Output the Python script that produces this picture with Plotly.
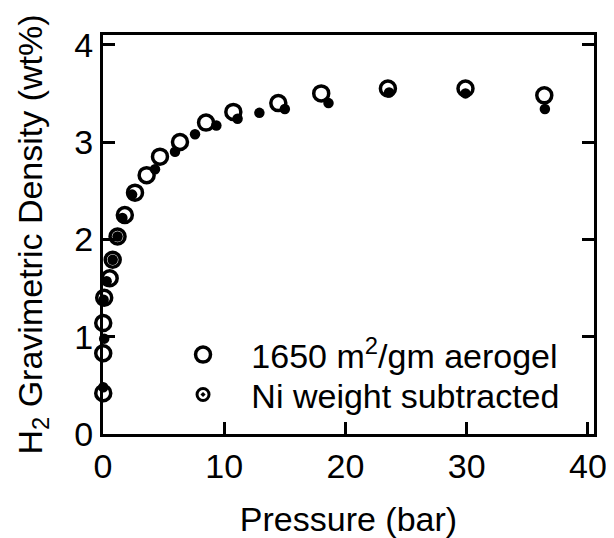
import plotly.graph_objects as go

# Values
aerogel_p = [0.02, 0.02, 0.02, 0.1, 0.55, 0.8, 1.2, 1.8, 2.64, 3.6, 4.7, 6.35,
             8.5, 10.75, 14.46, 18.0, 23.5, 29.9, 36.4]
aerogel_wt = [0.42, 0.83, 1.14, 1.40, 1.60, 1.79, 2.03, 2.25, 2.48, 2.66, 2.85,
              3.00, 3.20, 3.31, 3.40, 3.50, 3.55, 3.55, 3.48]

ni_p = [0.02, 0.1, 0.05, 0.3, 0.8, 1.2, 1.6, 2.4, 4.29, 5.94, 7.59, 9.35,
        11.1, 12.9, 15.0, 18.6, 23.6, 29.9, 36.45]
ni_wt = [0.48, 0.98, 1.38, 1.57, 1.79, 2.03, 2.22, 2.46, 2.72, 2.90, 3.08,
         3.17, 3.24, 3.30, 3.34, 3.40, 3.51, 3.50, 3.34]

x_ticks = [0, 10, 20, 30, 40]
y_ticks = [0, 1, 2, 3, 4]

FONT = "Arial, Liberation Sans, sans-serif"
pad = "\u00a0\u00a0\u00a0"

fig = go.Figure()

fig.add_trace(go.Scatter(
    x=ni_p, y=ni_wt, mode="markers", showlegend=False, cliponaxis=False,
    marker=dict(symbol="circle", size=10.5, color="black"),
))
fig.add_trace(go.Scatter(
    x=aerogel_p, y=aerogel_wt, mode="markers", cliponaxis=False,
    name=pad + "1650 m<sup>2</sup>/gm aerogel", legend="legend",
    marker=dict(symbol="circle-open", size=15, color="black",
                line=dict(width=3.5, color="black")),
))
# legend-only entry for the Ni-subtracted series
fig.add_trace(go.Scatter(
    x=[None], y=[None], mode="markers", legend="legend2",
    name=pad + "Ni weight subtracted",
    marker=dict(symbol="circle-open-dot", size=12, color="black",
                line=dict(width=3, color="black")),
))

axis_common = dict(
    showline=True, linewidth=3, linecolor="black",
    ticks="inside", ticklen=12, tickwidth=3, tickcolor="black",
    showgrid=False, zeroline=False, automargin=False,
    tickfont=dict(size=34, color="black", family=FONT),
)
legend_common = dict(
    xanchor="left", yanchor="middle", bgcolor="rgba(0,0,0,0)",
    font=dict(size=34, color="black", family=FONT), itemsizing="trace",
)

# page body has an 8px margin, so the figure is drawn 8px short of the window
fig.update_layout(
    width=606, height=530,
    margin=dict(l=95, r=20, t=27, b=104),
    paper_bgcolor="white", plot_bgcolor="white",
    font=dict(family=FONT, color="black"),
    xaxis=dict(
        range=[0, 40.5], tickvals=x_ticks, mirror=True,
        title=dict(text="Pressure (bar)", font=dict(size=34), standoff=26),
        **axis_common,
    ),
    yaxis=dict(
        range=[0, 4.1], tickvals=y_ticks, mirror="ticks",
        title=dict(text="H<sub>2</sub> Gravimetric Density (wt%)",
                   font=dict(size=34), standoff=22),
        **axis_common,
    ),
    legend=dict(x=0.163, y=0.198, **legend_common),
    legend2=dict(x=0.163, y=0.098, **legend_common),
)

fig.write_html("out.html")
